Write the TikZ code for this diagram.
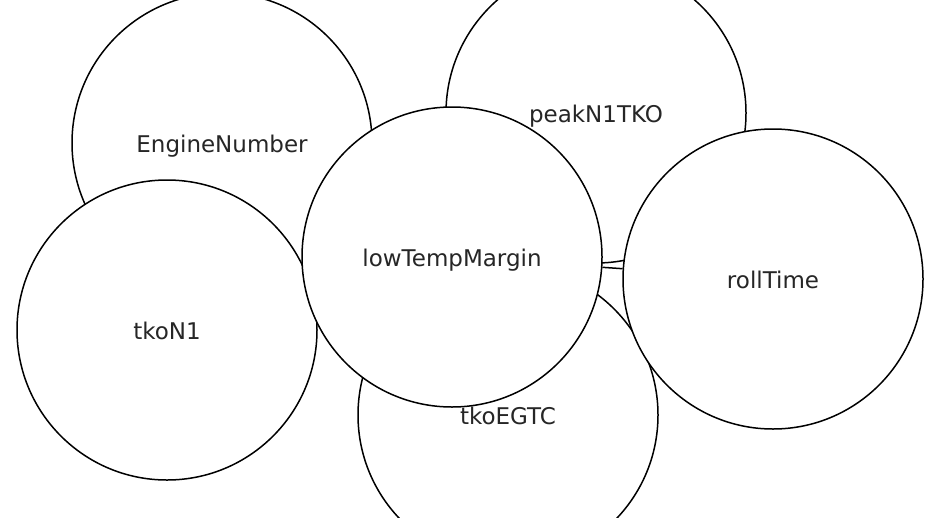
\documentclass[tikz,border=0pt]{standalone}
\usepackage{fontspec}
\usepackage{tikz}
\usetikzlibrary{backgrounds}
\newfontfamily\labelfont{DejaVu Sans}
\tikzset{
    field/.style={circle, draw=black, line width=1.5pt, fill=white, minimum size=300pt, inner sep=0pt, text centered, text height=18pt, text depth=0pt, font=\labelfont\fontsize{23}{27}\selectfont, text=black!85},
    link/.style ={draw=black, line width=1.5pt},
}
\begin{document}
\begin{tikzpicture}[x=1pt, y=-1pt]
    \useasboundingbox (0,0) rectangle (936,517);
    \clip (0,0) rectangle (936,517);
    \node[field] (eng)  at (222,143) {EngineNumber};
    \node[field] (n1)   at (167,330) {tkoN1};
    \node[field] (peak) at (596,113) {peakN1TKO};
    \node[field] (egtc) at (508,415) {tkoEGTC};
    \node[field] (ltm)  at (452,257) {lowTempMargin};
    \node[field] (roll) at (773,279) {rollTime};
    \begin{pgfonlayer}{background}
        \draw[link] (ltm) -- (roll);
    \end{pgfonlayer}
\end{tikzpicture}
\end{document}
